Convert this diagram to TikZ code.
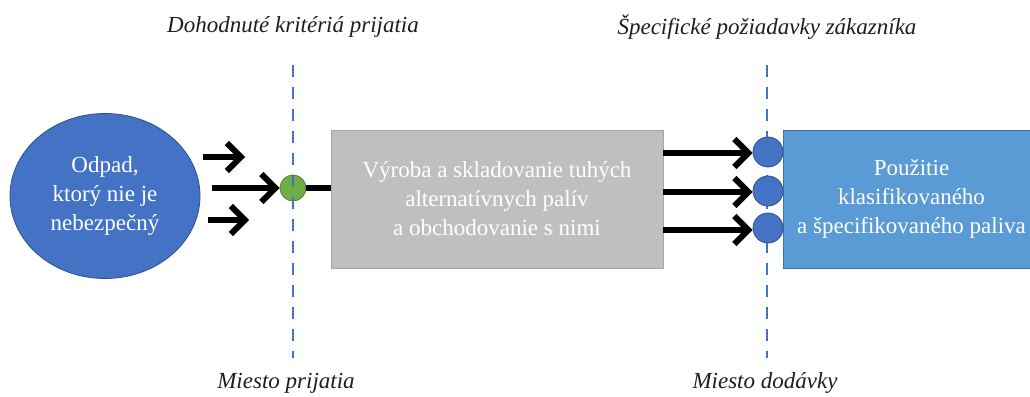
\documentclass[tikz,border=0pt]{standalone}
\usepackage{fontspec}
\setmainfont{Liberation Serif}
\usetikzlibrary{positioning,arrows.meta,calc,shapes.geometric}
\definecolor{wsBlue}{RGB}{68,114,196}
\definecolor{wsBlueDark}{RGB}{47,82,143}
\definecolor{wsSky}{RGB}{91,155,213}
\definecolor{wsSkyDark}{RGB}{65,113,156}
\definecolor{wsGray}{RGB}{191,191,191}
\definecolor{wsGrayDark}{RGB}{165,165,165}
\definecolor{wsGreen}{RGB}{112,173,71}
\definecolor{wsGreenDark}{RGB}{80,126,50}
\definecolor{wsText}{RGB}{30,30,30}
\tikzset{
    base/.style={font=\fontsize{23}{29}\selectfont, align=center, text=white},
    source/.style={base, ellipse, draw=wsBlueDark, thick, fill=wsBlue,
                   minimum width=190pt, minimum height=165pt, inner sep=0pt},
    process/.style={base, rectangle, draw=wsGrayDark, thick, fill=wsGray,
                    minimum width=332pt, minimum height=138pt, inner sep=0pt},
    usage/.style={base, rectangle, draw=wsSkyDark, thick, fill=wsSky,
                  minimum width=257pt, minimum height=138pt, inner sep=0pt},
    accept/.style={circle, draw=wsGreenDark, thick, fill=wsGreen, minimum size=26pt, inner sep=0pt},
    deliver/.style={circle, draw=wsBlueDark, thick, fill=wsBlue, minimum size=30pt, inner sep=0pt},
    border/.style={wsBlue, line width=2.7pt, dash pattern=on 12pt off 10pt},
    flow/.style={-{Straight Barb[length=14pt,width=28pt]}, line width=6pt, color=black},
    link/.style={line width=6pt, color=black},
    caption/.style={font=\fontsize{23}{27}\selectfont\itshape, text=wsText}
}
\begin{document}
\begin{tikzpicture}[x=1pt, y=-1pt]
  \clip (0,0) rectangle (1030,396);

  % main blocks
  \node[source] (waste) at (105,196) {Odpad,\\ktorý nie je\\nebezpečný};
  \node[process] (prod) at (497,199) {Výroba a skladovanie tuhých\\alternatívnych palív\\a obchodovanie s nimi};
  \node[usage] (use) at (911.5,199) {Použitie\\klasifikovaného\\a špecifikovaného paliva};

  % acceptance point
  \node[accept] (acc) at (293,188) {};
  \draw[link] (acc.east) -- (acc.east -| prod.west);
  \coordinate (accTop) at (293,65);
  \coordinate (accBot) at (293,358);
  \draw[border] (accTop) -- (accBot);

  % incoming waste
  \coordinate (inA) at (203,157);
  \coordinate (inAend) at (245,157);
  \coordinate (inB) at (212,188);
  \coordinate (inC) at (208,220);
  \coordinate (inCend) at (249,220);
  \draw[flow] (inA) -- (inAend);
  \draw[flow] (inB) -- (acc.west);
  \draw[flow] (inC) -- (inCend);

  % delivery point
  \coordinate (delTop) at (767,65);
  \coordinate (delBot) at (767,358);
  \draw[border] (delTop) -- (delBot);
  \node[deliver] (d1) at (768,152) {};
  \node[deliver] (d2) at (768,191) {};
  \node[deliver] (d3) at (768,228) {};
  \foreach \d/\y in {d1/153, d2/192, d3/230} {
    \draw[flow] (prod.east |- 0,\y) -- (\d.west |- 0,\y);
  }

  % captions
  \node[caption] (crit) at (293,27) {Dohodnuté kritériá prijatia};
  \node[caption] (spec) at (767,27) {Špecifické požiadavky zákazníka};
  \node[caption] (accLbl) at (286,383) {Miesto prijatia};
  \node[caption] (delLbl) at (765,383) {Miesto dodávky};
\end{tikzpicture}
\end{document}
